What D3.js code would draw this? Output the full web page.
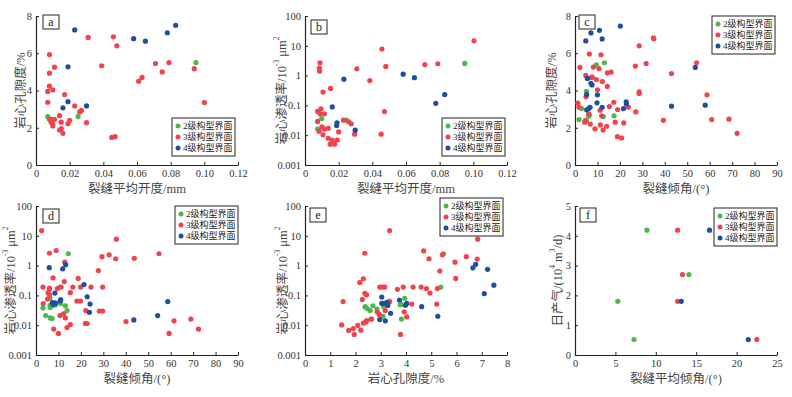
<!DOCTYPE html>
<html>
<head>
<meta charset="utf-8">
<script src="https://cdn.jsdelivr.net/npm/d3@7"></script>
<style>
  body { margin: 0; background: #fff; }
  svg text { font-family: "Liberation Serif", "Noto Sans CJK SC", serif; }
</style>
</head>
<body>
<svg id="chart" width="792" height="397"></svg>
<script>
// series names
var seriesNames = ["2级构型界面", "3级构型界面", "4级构型界面"];
var seriesColors = ["#4cb84a", "#f0434d", "#1f4e9e"];

// panel a: fracture aperture (mm) vs porosity (%)
var aGreen = [[0.007, 2.6], [0.009, 2.45], [0.025, 2.6], [0.095, 5.5]];
var aRed = [[0.008, 5.93], [0.011, 5.25], [0.046, 6.88], [0.048, 6.4], [0.031, 6.85], [0.039, 5.33],
  [0.071, 5.45], [0.079, 5.5], [0.094, 5.17], [0.075, 5.0], [0.063, 4.7], [0.061, 4.5], [0.100, 3.35],
  [0.008, 4.93], [0.008, 4.23], [0.007, 3.95], [0.010, 4.03], [0.017, 3.78], [0.007, 3.37],
  [0.023, 3.17], [0.027, 2.93], [0.026, 2.85], [0.014, 2.65], [0.008, 2.45], [0.011, 2.45],
  [0.020, 2.4], [0.009, 2.3], [0.010, 2.2], [0.010, 2.1], [0.015, 2.3], [0.019, 2.22], [0.030, 2.27],
  [0.014, 1.88], [0.015, 1.95], [0.016, 1.7], [0.045, 1.48], [0.047, 1.52]];
var aBlue = [[0.023, 7.25], [0.019, 5.27], [0.019, 3.4], [0.016, 3.07], [0.030, 3.17],
  [0.058, 6.78], [0.065, 6.65], [0.078, 7.1], [0.083, 7.5]];

// panel b: fracture aperture (mm) vs permeability (10^-3 um^2)
var bGreen = [[0.0949, 2.57], [0.0099, 0.036], [0.0245, 0.032], [0.0075, 0.016]];
var bRed = [[0.1004, 14.8], [0.0457, 7.8], [0.0789, 2.5], [0.0712, 2.35], [0.048, 2.03], [0.0308, 1.7],
  [0.0089, 2.7], [0.0085, 1.8], [0.0087, 1.4], [0.0385, 0.68], [0.0152, 0.37], [0.0107, 0.28],
  [0.0095, 0.076], [0.0075, 0.063], [0.0089, 0.052], [0.0115, 0.052], [0.0472, 0.062],
  [0.0075, 0.029], [0.0229, 0.032], [0.026, 0.028], [0.0275, 0.024], [0.0101, 0.019],
  [0.0115, 0.016], [0.0138, 0.017], [0.0083, 0.0135], [0.02, 0.0129], [0.0295, 0.0108],
  [0.0452, 0.0108], [0.0107, 0.0103], [0.0138, 0.0079], [0.0192, 0.0069], [0.0162, 0.0068],
  [0.015, 0.005], [0.0176, 0.005]];
var bBlue = [[0.0583, 1.12], [0.065, 0.85], [0.0231, 0.76], [0.083, 0.23], [0.0777, 0.117],
  [0.0162, 0.089], [0.019, 0.026], [0.0188, 0.021], [0.0298, 0.0147]];

// panel c: fracture dip (deg) vs porosity (%)
var cGreen = [[13.1, 5.49], [9.5, 5.38], [5.1, 3.96], [3.0, 3.03], [6.1, 2.62], [6.4, 2.67],
  [12.6, 2.6], [17.4, 2.64], [1.8, 2.44], [5.1, 2.37]];
var cRed = [[35.0, 6.83], [35.1, 6.78], [28.6, 6.4], [6.4, 5.96], [11.6, 5.92], [31.7, 5.45],
  [54.2, 5.49], [2.2, 5.24], [8.2, 5.26], [10.7, 5.17], [26.9, 5.31], [14.4, 4.95], [16.1, 4.99],
  [43.0, 4.91], [4.8, 4.81], [7.3, 4.7], [7.7, 4.72], [9.5, 4.59], [12.2, 4.48], [14.4, 4.22],
  [10.0, 4.04], [28.6, 3.93], [28.6, 3.84], [4.9, 3.66], [58.8, 3.77], [1.3, 3.32], [17.3, 3.37],
  [23.8, 3.1], [15.3, 3.14], [1.8, 3.1], [11.2, 2.94], [19.0, 2.98], [27.1, 2.85], [6.1, 2.74],
  [11.9, 2.64], [4.6, 2.39], [4.3, 2.3], [17.9, 2.3], [21.7, 2.26], [6.8, 2.2], [11.3, 2.15],
  [14.1, 2.08], [8.9, 1.94], [12.5, 1.88], [39.4, 2.4], [60.9, 2.44], [68.6, 2.46], [72.2, 1.7],
  [18.9, 1.52], [20.8, 1.45]];
var cBlue = [[20.2, 7.46], [10.9, 7.23], [7.1, 7.09], [12.1, 6.77], [4.8, 6.66], [53.6, 5.24],
  [5.5, 4.65], [7.1, 4.39], [7.6, 4.3], [5.2, 3.78], [10.0, 3.77], [9.8, 3.34], [22.8, 3.39],
  [22.9, 3.28], [12.1, 3.1], [6.7, 3.1], [6.1, 3.03], [5.2, 2.96], [21.6, 3.03], [43.0, 3.16],
  [58.0, 3.21]];

// panel d: fracture dip (deg) vs permeability
var dGreen = [[14.4, 2.5], [10.6, 0.19], [6.2, 0.081], [11.0, 0.053], [6.3, 0.046], [8.5, 0.047],
  [13.1, 0.045], [6.9, 0.044], [6.3, 0.039], [3.1, 0.038], [13.8, 0.031], [4.3, 0.021],
  [6.3, 0.0176], [7.2, 0.0167]];
var dRed = [[2.5, 15], [35.8, 7.7], [9.0, 3.2], [6.0, 2.6], [54.8, 2.5], [32.6, 2.3], [29.4, 2.0],
  [35.5, 1.7], [43.8, 1.75], [12.8, 1.3], [27.8, 0.68], [7.6, 0.39], [18.8, 0.37], [12.6, 0.29],
  [3.1, 0.19], [6.0, 0.175], [6.0, 0.16], [11.2, 0.19], [16.4, 0.19], [19.9, 0.19], [24.5, 0.19],
  [29.7, 0.19], [9.5, 0.17], [5.4, 0.123], [15.3, 0.123], [6.0, 0.105], [5.1, 0.075],
  [18.2, 0.065], [19.8, 0.065], [3.2, 0.053], [28.2, 0.03], [29.7, 0.03], [22.2, 0.031],
  [12.3, 0.024], [10.7, 0.021], [13.1, 0.0176], [69.0, 0.016], [61.5, 0.014], [40.1, 0.0133],
  [22.0, 0.0114], [22.8, 0.0114], [15.3, 0.0105], [13.8, 0.0083], [7.9, 0.0074], [72.4, 0.0074],
  [10.0, 0.0053], [59.3, 0.0053]];
var dBlue = [[13.2, 1.07], [5.9, 0.85], [11.9, 0.78], [21.4, 0.23], [8.4, 0.12], [22.8, 0.09],
  [11.0, 0.072], [10.7, 0.065], [58.7, 0.062], [7.3, 0.057], [8.3, 0.056], [8.7, 0.054],
  [7.6, 0.05], [24.1, 0.051], [23.8, 0.027], [54.2, 0.021], [43.6, 0.015]];

// panel e: porosity (%) vs permeability
var eGreen = [[5.49, 2.5], [5.38, 0.19], [3.95, 0.08], [2.38, 0.042], [2.69, 0.045], [3.12, 0.042],
  [3.81, 0.049], [3.77, 0.049], [2.46, 0.036], [2.85, 0.035], [2.58, 0.031], [3.09, 0.02],
  [2.61, 0.016], [3.82, 0.016]];
var eRed = [[3.35, 15], [6.84, 7.7], [2.37, 2.6], [4.7, 3.1], [5.44, 2.3], [4.91, 1.7], [6.39, 2.0],
  [6.82, 1.65], [5.94, 1.3], [5.34, 0.66], [5.97, 0.37], [2.31, 0.36], [2.17, 0.27], [2.96, 0.19],
  [3.07, 0.19], [3.16, 0.19], [3.89, 0.19], [4.28, 0.19], [4.6, 0.19], [4.81, 0.17], [5.24, 0.17],
  [3.66, 0.16], [2.37, 0.117], [2.44, 0.105], [4.95, 0.12], [2.27, 0.073], [1.51, 0.062],
  [3.35, 0.063], [4.23, 0.051], [5.22, 0.051], [3.18, 0.031], [2.86, 0.028], [2.94, 0.023],
  [3.93, 0.028], [4.03, 0.019], [2.64, 0.016], [2.44, 0.0144], [2.41, 0.0128], [2.31, 0.0118],
  [2.09, 0.0098], [1.45, 0.0102], [1.91, 0.0077], [2.21, 0.0068], [1.73, 0.0067], [1.95, 0.0049],
  [3.78, 0.0049]];
var eBlue = [[6.76, 1.1], [6.65, 0.84], [7.23, 0.75], [7.48, 0.22], [7.1, 0.115], [3.04, 0.088],
  [3.74, 0.07], [3.24, 0.058], [3.04, 0.054], [3.12, 0.054], [4.03, 0.054], [3.98, 0.047],
  [3.27, 0.05], [3.28, 0.046], [4.62, 0.042], [3.39, 0.025], [5.26, 0.02], [2.96, 0.0155],
  [3.18, 0.014]];

// panel f: mean fracture dip (deg) vs daily gas (10^4 m3/d)
var fGreen = [[8.9, 4.19], [14.1, 2.7], [5.3, 1.8], [7.3, 0.52]];
var fRed = [[12.7, 4.19], [13.3, 2.7], [12.7, 1.8], [22.5, 0.52]];
var fBlue = [[16.65, 4.19], [13.15, 1.8], [21.45, 0.52]];

// tick labels
var apertureTicks = ["0", "0.02", "0.04", "0.06", "0.08", "0.10", "0.12"];
var dipTicks = ["0", "10", "20", "30", "40", "50", "60", "70", "80", "90"];
var porosityTicks = ["0", "2", "4", "6", "8"];
var porosityXTicks = ["0", "1", "2", "3", "4", "5", "6", "7", "8"];
var permTicks = ["0.001", "0.01", "0.1", "1", "10", "100"];
var meanDipTicks = ["0", "5", "10", "15", "20", "25"];
var gasTicks = ["0", "1", "2", "3", "4", "5"];

// layout
var colLeft = [36, 305, 575];
var rowTop = [16, 206];
var plotW = 202, plotH = 149;

var permLabel = [["岩心渗透率/10", 0], ["-3", 1], [" μm", 0], ["2", 1]];

var panels = [
  { id: "a", col: 0, row: 0, xTicks: apertureTicks, yType: "lin", yTicks: porosityTicks,
    xLabel: "裂缝平均开度/mm", yLabel: [["岩心孔隙度/%", 0]], yLabelX: -11,
    series: [aGreen, aRed, aBlue], legend: [136, 102], letterPos: [7, -1] },
  { id: "b", col: 1, row: 0, xTicks: apertureTicks, yType: "log", yTicks: permTicks,
    xLabel: "裂缝平均开度/mm", yLabel: permLabel, yLabelX: -19,
    series: [bGreen, bRed, bBlue], legend: [137, 102], letterPos: [6, 4] },
  { id: "c", col: 2, row: 0, xTicks: dipTicks, yType: "lin", yTicks: porosityTicks,
    xLabel: "裂缝倾角/(°)", yLabel: [["岩心孔隙度/%", 0]], yLabelX: -19,
    series: [cGreen, cRed, cBlue], legend: [137, 0], letterPos: [4, -1] },
  { id: "d", col: 0, row: 1, xTicks: dipTicks, yType: "log", yTicks: permTicks,
    xLabel: "裂缝倾角/(°)", yLabel: permLabel, yLabelX: -21,
    series: [dGreen, dRed, dBlue], legend: [139, 0], letterPos: [7, 3] },
  { id: "e", col: 1, row: 1, xTicks: porosityXTicks, yType: "log", yTicks: permTicks,
    xLabel: "岩心孔隙度/%", yLabel: permLabel, yLabelX: -18,
    series: [eGreen, eRed, eBlue], legend: [135, -8], letterPos: [5, 2] },
  { id: "f", col: 2, row: 1, xTicks: meanDipTicks, yType: "lin", yTicks: gasTicks,
    xLabel: "裂缝平均倾角/(°)", yLabel: [["日产气/(10", 0], ["4", 1], [" m", 0], ["3", 1], ["/d)", 0]],
    yLabelX: -13, series: [fGreen, fRed, fBlue], legend: [139, 2], letterPos: [5, 2] }
];

var svg = d3.select("#chart");

panels.forEach(function (p) {
  var left = colLeft[p.col], top = rowTop[p.row];
  var g = svg.append("g").attr("transform", `translate(${left},${top})`);

  var xVals = p.xTicks.map(Number);
  var yVals = p.yTicks.map(Number);
  var xScale = d3.scaleLinear().domain(d3.extent(xVals)).range([0, plotW]);
  var yScale = p.yType === "log"
    ? d3.scaleLog().domain(d3.extent(yVals)).range([plotH, 0])
    : d3.scaleLinear().domain(d3.extent(yVals)).range([plotH, 0]);

  // axes, ticks pointing inward like the original
  var xAxis = g.append("g")
    .attr("transform", `translate(0,${plotH})`)
    .call(d3.axisBottom(xScale).tickValues(xVals)
      .tickFormat((d, i) => p.xTicks[i]).tickSizeInner(-3).tickSizeOuter(0).tickPadding(5));
  var yAxis = g.append("g")
    .call(d3.axisLeft(yScale).tickValues(yVals)
      .tickFormat((d, i) => p.yTicks[i]).tickSizeInner(-3).tickSizeOuter(0).tickPadding(4));

  [xAxis, yAxis].forEach(function (ax) {
    ax.select(".domain").attr("stroke", "#222").attr("stroke-width", 1.2);
    ax.selectAll(".tick line").attr("stroke", "#222");
    ax.selectAll(".tick text").attr("fill", "#333").style("font-size", "10.5px")
      .style("font-family", "'Liberation Serif', serif");
  });

  // points
  p.series.forEach(function (pts, si) {
    g.selectAll(".pt" + si)
      .data(pts)
      .enter()
      .append("circle")
      .attr("class", "pt" + si)
      .attr("cx", (d) => xScale(d[0]))
      .attr("cy", (d) => yScale(d[1]))
      .attr("r", 2.6)
      .attr("fill", seriesColors[si]);
  });

  // panel letter
  var lg = g.append("g").attr("transform", `translate(${p.letterPos[0]},${p.letterPos[1]})`);
  lg.append("rect").attr("width", 16).attr("height", 14)
    .attr("fill", "#fff").attr("stroke", "#222").attr("stroke-width", 1);
  lg.append("text").attr("x", 8).attr("y", 11).attr("text-anchor", "middle")
    .style("font-size", "12px").attr("fill", "#222").text(p.id);

  // legend
  var leg = g.append("g").attr("transform", `translate(${p.legend[0]},${p.legend[1]})`);
  leg.append("rect").attr("width", 63).attr("height", 38)
    .attr("fill", "#fff").attr("stroke", "#222").attr("stroke-width", 1);
  var rows = leg.selectAll(".lrow").data(seriesNames).enter().append("g")
    .attr("transform", (d, i) => `translate(0,${8 + i * 11})`);
  rows.append("circle").attr("cx", 6).attr("cy", 0).attr("r", 2.5)
    .attr("fill", (d, i) => seriesColors[i]);
  rows.append("text").attr("x", 11).attr("y", 3.3)
    .style("font-size", "9px").attr("fill", "#222").text((d) => d);

  // axis titles
  g.append("text")
    .attr("x", plotW / 2).attr("y", plotH + 28)
    .attr("text-anchor", "middle").style("font-size", "12.5px").attr("fill", "#444")
    .text(p.xLabel);

  var yt = g.append("text")
    .attr("transform", `translate(${p.yLabelX},${plotH / 2}) rotate(-90)`)
    .attr("text-anchor", "middle").style("font-size", "12.5px").attr("fill", "#444");
  p.yLabel.forEach(function (part, i) {
    var t = yt.append("tspan").text(part[0]);
    if (part[1]) t.style("font-size", "7.5px").attr("dy", "-0.9em");
    else if (i > 0) t.attr("dy", "0.54em");
  });
});
</script>
</body>
</html>
